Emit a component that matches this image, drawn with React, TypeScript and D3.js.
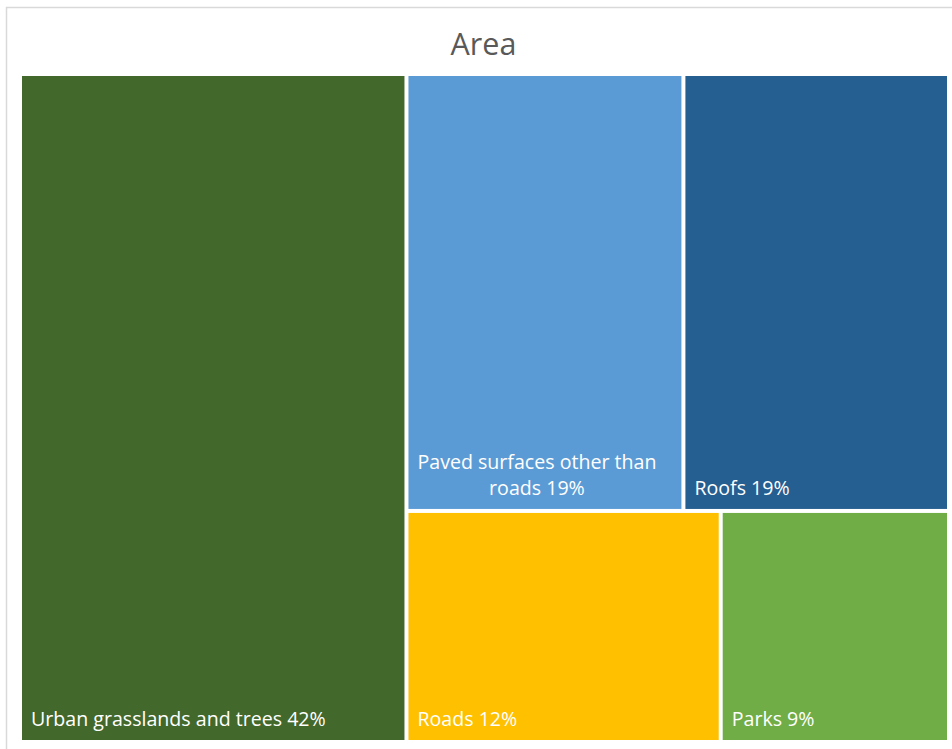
import React from "react";
import * as d3 from "d3";

const title = "Area";
const categories = [
  "Urban grasslands and trees",
  "Paved surfaces other than roads",
  "Roofs",
  "Roads",
  "Parks",
];
const areaValues = [41.6, 19.5, 18.7, 11.7, 8.5];
const percentLabels = ["42%", "19%", "19%", "12%", "9%"];
const colors = ["#43682B", "#5B9BD5", "#255E91", "#FFC000", "#70AD47"];
// grouping of cells: first column, then two rows of two cells
const rowGroups = [[1, 2], [3, 4]];

const W = 952;
const H = 749;
const LABEL_FONT = 19.6;
const FONT = "'Open Sans', 'Noto Sans', sans-serif";

function measure(text: string, size: number) {
  const c = document.createElement("canvas");
  const ctx = c.getContext("2d")!;
  ctx.font = `${size}px 'Open Sans'`;
  return ctx.measureText(text).width;
}

function wrap(text: string, maxW: number, size: number) {
  const words = text.split(" ");
  const lines: string[] = [];
  let cur = "";
  for (const w of words) {
    const t = cur ? cur + " " + w : w;
    if (measure(t, size) <= maxW || !cur) cur = t;
    else {
      lines.push(cur);
      cur = w;
    }
  }
  if (cur) lines.push(cur);
  return lines;
}

export default function App() {
  const leaf = (i: number) => ({ name: categories[i], idx: i, value: areaValues[i] });
  const data = {
    name: "root",
    children: [
      leaf(0),
      {
        name: "rest",
        children: rowGroups.map((g, k) => ({ name: "row" + k, children: g.map(leaf) })),
      },
    ],
  };

  const x0 = 22;
  const y0 = 76;
  const tw = 925;
  const th = 664;

  const root = d3
    .hierarchy<any>(data)
    .sum((d: any) => (d.children ? 0 : d.value));
  d3.treemap<any>().tile(d3.treemapSliceDice).size([tw, th]).paddingInner(4).round(false)(root);

  const leaves = root.leaves() as any[];

  return (
    <svg
      width={W}
      height={H}
      style={{ position: "absolute", left: 0, top: 0, background: "#fff" }}
      fontFamily={FONT}
    >
      <rect x={6.5} y={7.5} width={955} height={770} fill="#fff" stroke="#d9d9d9" strokeWidth={1.5} />
      <text x={483.5} y={54.5} textAnchor="middle" fontSize={30.5} fill="#595959">
        {title}
      </text>
      <g transform={`translate(${x0},${y0})`}>
        {leaves.map((n) => {
          const i = n.data.idx;
          const w = n.x1 - n.x0;
          const label = `${categories[i]} ${percentLabels[i]}`;
          const lines = wrap(label, w - 14, LABEL_FONT);
          const widths = lines.map((l) => measure(l, LABEL_FONT));
          const maxW = Math.max(...widths);
          const lx = n.x0 + 9;
          const lh = 26;
          const lastBase = n.y1 - 14;
          const multi = lines.length > 1;
          return (
            <g key={i}>
              <rect x={n.x0} y={n.y0} width={w} height={n.y1 - n.y0} fill={colors[i]} />
              {lines.map((l, j) => (
                <text
                  key={j}
                  x={multi ? lx + maxW / 2 : lx}
                  y={lastBase - (lines.length - 1 - j) * lh}
                  textAnchor={multi ? "middle" : "start"}
                  fontSize={LABEL_FONT}
                  fill="#fff"
                >
                  {l}
                </text>
              ))}
            </g>
          );
        })}
      </g>
    </svg>
  );
}
